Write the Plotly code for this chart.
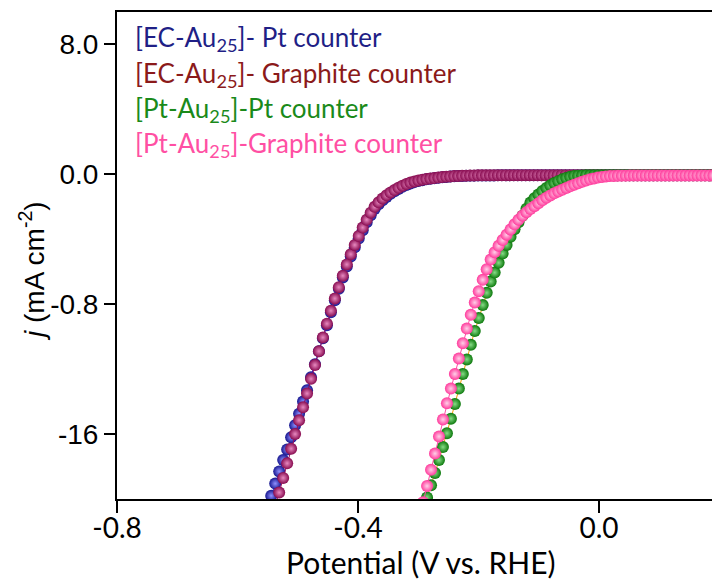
import plotly.graph_objects as go

# ---- data: linear sweep voltammograms (potential in V vs. RHE, current density) ----
ec_potential = [
    -0.544, -0.5374, -0.5308, -0.5242, -0.5176, -0.511, -0.5044, -0.4978, -0.4912, -0.4846,
    -0.478, -0.4714, -0.4648, -0.4582, -0.4516, -0.445, -0.4384, -0.4318, -0.4252, -0.4186,
    -0.412, -0.4054, -0.3988, -0.3922, -0.3856, -0.379, -0.3724, -0.3658, -0.3592, -0.3526,
    -0.346, -0.3394, -0.3328, -0.3262, -0.3196, -0.313, -0.3064, -0.2998, -0.2932, -0.2866,
    -0.28, -0.2734, -0.2668, -0.2602, -0.2536, -0.247, -0.2404, -0.2338, -0.2272, -0.2206,
    -0.214, -0.2074, -0.2008, -0.1942, -0.1876, -0.181, -0.1744, -0.1678, -0.1612, -0.1546,
    -0.148, -0.1414, -0.1348, -0.1282, -0.1216, -0.115, -0.1084, -0.1018, -0.0952, -0.0886,
    -0.082, -0.0754, -0.0688, -0.0622, -0.0556, -0.049, -0.0424, -0.0358, -0.0292, -0.0226,
    -0.016, -0.0094, -0.0028, 0.0038, 0.0104, 0.017, 0.0236, 0.0302, 0.0368, 0.0434,
    0.05, 0.0566, 0.0632, 0.0698, 0.0764, 0.083, 0.0896, 0.0962, 0.1028, 0.1094,
    0.116, 0.1226, 0.1292, 0.1358, 0.1424, 0.149, 0.1556, 0.1622, 0.1688, 0.1754,
    0.182, 0.1886,
]

ec_pt_counter = [
    -19.8, -19.05, -18.3, -17.6, -16.95, -16.2, -15.45, -14.75, -14.0, -13.3,
    -12.5, -11.7, -10.9, -10.1, -9.3, -8.5, -7.75, -7.05, -6.35, -5.68,
    -5.06, -4.5, -3.96, -3.44, -2.96, -2.52, -2.14, -1.84, -1.6, -1.39,
    -1.2, -1.04, -0.9, -0.77, -0.66, -0.56, -0.48, -0.41, -0.36, -0.31,
    -0.27, -0.24, -0.21, -0.18, -0.16, -0.14, -0.12, -0.11, -0.1, -0.09,
    -0.08, -0.08, -0.07, -0.07, -0.07, -0.07, -0.07, -0.06, -0.06, -0.06,
    -0.06, -0.06, -0.06, -0.06, -0.06, -0.06, -0.06, -0.06, -0.06, -0.06,
    -0.06, -0.06, -0.06, -0.06, -0.06, -0.06, -0.06, -0.06, -0.06, -0.06,
    -0.06, -0.06, -0.06, -0.06, -0.06, -0.06, -0.06, -0.06, -0.06, -0.06,
    -0.06, -0.06, -0.06, -0.06, -0.06, -0.06, -0.06, -0.06, -0.06, -0.06,
    -0.06, -0.06, -0.06, -0.06, -0.06, -0.06, -0.06, -0.06, -0.06, -0.06,
    -0.06, -0.06,
]

ec_graphite_counter = [
    -21.0, -20.4, -19.6, -18.7, -17.8, -16.9, -16.0, -15.15, -14.35, -13.5,
    -12.6, -11.75, -10.9, -10.05, -9.2, -8.4, -7.65, -6.95, -6.25, -5.55,
    -4.92, -4.35, -3.8, -3.28, -2.8, -2.36, -2.0, -1.72, -1.49, -1.29,
    -1.12, -0.97, -0.83, -0.7, -0.6, -0.51, -0.44, -0.38, -0.33, -0.29,
    -0.26, -0.23, -0.2, -0.17, -0.15, -0.13, -0.11, -0.1, -0.09, -0.08,
    -0.07, -0.07, -0.06, -0.06, -0.06, -0.06, -0.06, -0.05, -0.05, -0.05,
    -0.05, -0.05, -0.05, -0.05, -0.05, -0.05, -0.05, -0.05, -0.05, -0.05,
    -0.05, -0.05, -0.05, -0.05, -0.05, -0.05, -0.05, -0.05, -0.05, -0.05,
    -0.05, -0.05, -0.05, -0.05, -0.05, -0.05, -0.05, -0.05, -0.05, -0.05,
    -0.05, -0.05, -0.05, -0.05, -0.05, -0.05, -0.05, -0.05, -0.05, -0.05,
    -0.05, -0.05, -0.05, -0.05, -0.05, -0.05, -0.05, -0.05, -0.05, -0.05,
    -0.05, -0.05,
]

pt_potential = [
    -0.292, -0.2854, -0.2788, -0.2722, -0.2656, -0.259, -0.2524, -0.2458, -0.2392, -0.2326,
    -0.226, -0.2194, -0.2128, -0.2062, -0.1996, -0.193, -0.1864, -0.1798, -0.1732, -0.1666,
    -0.16, -0.1534, -0.1468, -0.1402, -0.1336, -0.127, -0.1204, -0.1138, -0.1072, -0.1006,
    -0.094, -0.0874, -0.0808, -0.0742, -0.0676, -0.061, -0.0544, -0.0478, -0.0412, -0.0346,
    -0.028, -0.0214, -0.0148, -0.0082, -0.0016, 0.005, 0.0116, 0.0182, 0.0248, 0.0314,
    0.038, 0.0446, 0.0512, 0.0578, 0.0644, 0.071, 0.0776, 0.0842, 0.0908, 0.0974,
    0.104, 0.1106, 0.1172, 0.1238, 0.1304, 0.137, 0.1436, 0.1502, 0.1568, 0.1634,
    0.17, 0.1766, 0.1832, 0.1898,
]

pt_pt_counter = [
    -20.6, -19.9, -19.15, -18.4, -17.6, -16.8, -15.95, -15.05, -14.15, -13.2,
    -12.3, -11.4, -10.5, -9.65, -8.85, -8.05, -7.3, -6.6, -6.05, -5.45,
    -4.88, -4.35, -3.85, -3.38, -2.95, -2.55, -2.12, -1.74, -1.47, -1.24,
    -1.03, -0.84, -0.68, -0.54, -0.42, -0.31, -0.22, -0.15, -0.1, -0.08,
    -0.07, -0.06, -0.06, -0.06, -0.06, -0.06, -0.06, -0.06, -0.06, -0.06,
    -0.06, -0.06, -0.06, -0.06, -0.06, -0.06, -0.06, -0.06, -0.06, -0.06,
    -0.06, -0.06, -0.06, -0.06, -0.06, -0.06, -0.06, -0.06, -0.06, -0.06,
    -0.06, -0.06, -0.06, -0.06,
]

pt_graphite_counter = [
    -20.2, -19.2, -18.2, -17.2, -16.15, -15.1, -14.1, -13.2, -12.3, -11.35,
    -10.4, -9.5, -8.65, -7.9, -7.2, -6.5, -5.85, -5.25, -4.8, -4.4,
    -4.05, -3.72, -3.4, -3.08, -2.8, -2.55, -2.33, -2.14, -1.96, -1.78,
    -1.6, -1.44, -1.3, -1.17, -1.06, -0.95, -0.84, -0.74, -0.64, -0.55,
    -0.46, -0.38, -0.31, -0.25, -0.2, -0.16, -0.13, -0.11, -0.1, -0.09,
    -0.08, -0.08, -0.07, -0.07, -0.07, -0.07, -0.07, -0.07, -0.07, -0.07,
    -0.07, -0.07, -0.07, -0.07, -0.07, -0.07, -0.07, -0.07, -0.07, -0.07,
    -0.07, -0.07, -0.07, -0.07,
]

y_tick_values = [8, 0, -8, -16]
y_tick_labels = ["8.0", "0.0", "-0.8", "-16"]
x_tick_values = [-0.8, -0.4, 0.0]
x_tick_labels = ["-0.8", "-0.4", "0.0"]

legend_labels = [
    "[EC-Au<sub>25</sub>]- Pt counter",
    "[EC-Au<sub>25</sub>]- Graphite counter",
    "[Pt-Au<sub>25</sub>]-Pt counter",
    "[Pt-Au<sub>25</sub>]-Graphite counter",
]

# ---- styling ----
W, H = 712, 582
ML, MR, MT, MB = 117, 0, 12, 83
PW, PH = W - ML - MR, H - MT - MB

series = [
    # x, y, line colour, ball edge colour, ball highlight colour
    (ec_potential, ec_pt_counter, "#1a1ae0", "#16168f", "#9090ff"),
    (ec_potential, ec_graphite_counter, "#9a0a5a", "#870a4f", "#e88ac0"),
    (pt_potential, pt_pt_counter, "#f0a000", "#0b780b", "#86dc86"),
    (pt_potential, pt_graphite_counter, "#ff4aa5", "#ff3a9c", "#ffd0e8"),
]
legend_colors = ["#1f1f86", "#8b1a1a", "#1a8a1a", "#ff4fa3"]

fig = go.Figure()
for xs, ys, lc, edge, centre in series:
    fig.add_trace(go.Scatter(
        x=xs, y=ys, mode="lines+markers",
        line=dict(color=lc, width=1),
        marker=dict(size=12, color=edge, line=dict(width=0),
                    gradient=dict(type="radial", color=centre)),
        showlegend=False, hoverinfo="skip",
    ))

def px_x(p):
    return (p - ML) / PW

def px_y(p):
    return (H - MB - p) / PH

annotations = []
for i, (label, col) in enumerate(zip(legend_labels, legend_colors)):
    annotations.append(dict(
        text=label, xref="paper", yref="paper",
        x=px_x(133), y=px_y(39 + 35 * i), xanchor="left", yanchor="middle",
        showarrow=False, font=dict(family="Lato", size=26, color=col),
    ))

# axis titles
annotations.append(dict(
    text="Potential (V vs. RHE)", xref="paper", yref="paper",
    x=px_x(421), y=px_y(562), xanchor="center", yanchor="middle",
    showarrow=False, font=dict(family="Lato", size=30, color="black"),
))
annotations.append(dict(
    text="<i>j</i> (mA cm<sup>-2</sup>)", xref="paper", yref="paper",
    x=px_x(32), y=px_y(271), xanchor="center", yanchor="middle", textangle=-90,
    showarrow=False, font=dict(family="Liberation Sans", size=28, color="black"),
))

fig.update_layout(
    width=W, height=H,
    margin=dict(l=ML, r=MR, t=MT, b=MB, pad=0),
    paper_bgcolor="white", plot_bgcolor="white",
    annotations=annotations,
    xaxis=dict(
        range=[-0.8, -0.8 + PW / 602.5],
        tickvals=x_tick_values, ticktext=x_tick_labels,
        ticks="outside", ticklen=12, tickwidth=2, tickcolor="black",
        ticklabelstandoff=-9,
        showline=True, linewidth=2, linecolor="black", mirror=True,
        showgrid=False, zeroline=False,
        tickfont=dict(family="Lato", size=28, color="black"),
    ),
    yaxis=dict(
        range=[-20, 10],
        tickvals=y_tick_values, ticktext=y_tick_labels,
        ticks="outside", ticklen=11, tickwidth=2, tickcolor="black",
        showline=True, linewidth=2, linecolor="black", mirror=False,
        showgrid=False, zeroline=False,
        tickfont=dict(family="Liberation Sans", size=28, color="black"),
    ),
)

fig.write_html("out.html")
